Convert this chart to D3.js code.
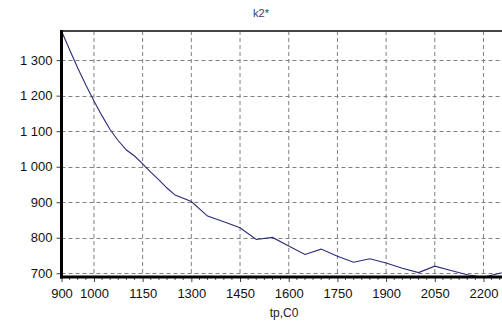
<!DOCTYPE html>
<html><head><meta charset="utf-8">
<script src="https://cdn.jsdelivr.net/npm/d3@7"></script>
<style>
html,body{margin:0;padding:0;background:#fff;overflow:hidden;}
svg{display:block;font-family:"Liberation Sans",Arial,sans-serif;}
</style></head>
<body><svg id="c" width="502" height="325"></svg>
<script>
const title = "k2*";
const xTitle = "tp,C0";
const tp = [900,925,950,975,1000,1025,1050,1075,1100,1125,1150,1175,1200,1225,1250,1300,1350,1400,1450,1500,1550,1600,1650,1700,1750,1800,1850,1900,1950,2000,2050,2100,2150,2200,2250,2300];
const k2 = [1382,1329,1278,1230,1185,1143,1104,1073,1047,1030,1008,985,963,940,920,902,861,845,828,795,801,777,753,768,748,731,741,729,714,702,720,708,696,689,700,710];
const xTicks = [900,1000,1150,1300,1450,1600,1750,1900,2050,2200];
const yTicks = [700,800,900,1000,1100,1200,1300];
const yLabels = ["700","800","900","1 000","1 100","1 200","1 300"];

const svg = d3.select("#c");
const L = 61.5, T = 31, B = 277;
const x = d3.scaleLinear().domain([900, 2300]).range([L, L + 1400*0.3246]);
const y = d3.scaleLinear().domain([689.5, 1382]).range([B, T]);
const R = x(2300);

// grid
const g = svg.append("g");
g.selectAll(".vg").data(xTicks.filter(d=>d>900)).join("line")
  .attr("x1",d=>x(d)).attr("x2",d=>x(d)).attr("y1",T).attr("y2",B)
  .attr("stroke","#808080").attr("stroke-width",1).attr("stroke-dasharray","4,3");
g.selectAll(".hg").data(yTicks).join("line")
  .attr("x1",L).attr("x2",R).attr("y1",d=>Math.round(y(d))+0.5).attr("y2",d=>Math.round(y(d))+0.5)
  .attr("stroke","#808080").attr("stroke-width",1).attr("stroke-dasharray","4,3");

// clip
svg.append("clipPath").attr("id","cp").append("rect").attr("x",L).attr("y",T).attr("width",R-L).attr("height",B-T);
const line = d3.line().x((d,i)=>x(tp[i])).y(d=>y(d));
svg.append("path").datum(k2).attr("d",line).attr("clip-path","url(#cp)")
  .attr("fill","none").attr("stroke","#2b2b7a").attr("stroke-width",1.1);

// top border
svg.append("line").attr("x1",L).attr("x2",R).attr("y1",T).attr("y2",T).attr("stroke","#444").attr("stroke-width",2);

// x axis
const xAxis = d3.axisBottom(x).tickValues(xTicks).tickSize(5).tickFormat(d3.format("d"));
const xa = svg.append("g").attr("transform",`translate(0,${B})`).call(xAxis);
xa.select(".domain").remove();
xa.selectAll("text").attr("font-size",13).attr("fill","#111").attr("dy","1.0em").attr("font-family","Liberation Sans, Arial, sans-serif");
xa.selectAll("line").attr("stroke","#444");
const minor = d3.range(900, 2300, 25).filter(d=>!xTicks.includes(d));
svg.selectAll(".mt").data(minor).join("line")
  .attr("x1",d=>x(d)).attr("x2",d=>x(d)).attr("y1",B).attr("y2",B+3).attr("stroke","#555");

// y axis
const yAxis = d3.axisLeft(y).tickValues(yTicks).tickSize(5).tickFormat((d,i)=>yLabels[i]);
const ya = svg.append("g").attr("transform",`translate(${L},0)`).call(yAxis);
ya.select(".domain").remove();
ya.selectAll("text").attr("font-size",13).attr("fill","#111").attr("x",-9).attr("font-family","Liberation Sans, Arial, sans-serif");
ya.selectAll("line").attr("stroke","#444");

// axis lines
svg.append("line").attr("x1",L).attr("x2",L).attr("y1",T-1).attr("y2",B+1.5).attr("stroke","#000").attr("stroke-width",3);
svg.append("line").attr("x1",L-1.5).attr("x2",R).attr("y1",B).attr("y2",B).attr("stroke","#000").attr("stroke-width",3);

// titles
svg.append("text").attr("x",261).attr("y",17).attr("text-anchor","middle").attr("font-size",11)
  .attr("fill","#3a3a72").text(title);
svg.append("text").attr("x",284).attr("y",317).attr("text-anchor","middle").attr("font-size",12)
  .attr("fill","#222").text(xTitle);
</script></body></html>
